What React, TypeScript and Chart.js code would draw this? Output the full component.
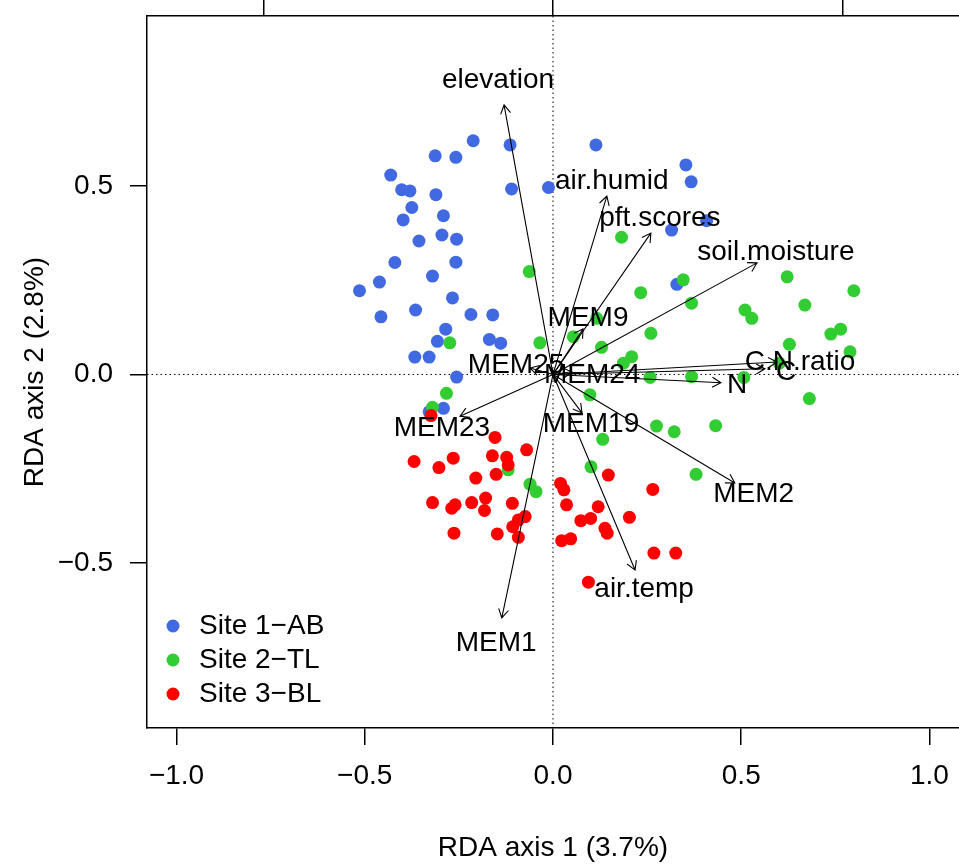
import React, { useEffect, useRef } from "react";
import { Chart, registerables } from "chart.js";

Chart.register(...registerables);

const FONT = '"Liberation Sans", Arial, Helvetica, sans-serif';

const siteLabels = ["Site 1−AB", "Site 2−TL", "Site 3−BL"];
const siteColors = ["#4169E1", "#32CD32", "#FF0000"];

const site1X = [-0.212, -0.114, 0.114, -0.313, -0.258, -0.431, -0.402, -0.38, -0.311, -0.11, -0.012, -0.375, -0.398, -0.291, -0.356, -0.295, -0.256, -0.42, -0.258, -0.32, -0.514, -0.461, -0.267, -0.457, -0.365, -0.218, -0.16, -0.285, -0.307, -0.169, -0.139, -0.367, -0.329, -0.256, 0.353, 0.367, 0.408, 0.315, 0.329, -0.291, -0.329];
const site1Y = [0.62, 0.609, 0.609, 0.58, 0.576, 0.529, 0.49, 0.487, 0.477, 0.492, 0.496, 0.443, 0.41, 0.421, 0.354, 0.37, 0.359, 0.297, 0.298, 0.261, 0.222, 0.245, 0.203, 0.153, 0.171, 0.159, 0.158, 0.12, 0.088, 0.093, 0.083, 0.046, 0.046, -0.007, 0.556, 0.511, 0.408, 0.383, 0.239, -0.09, -0.099];

const site2X = [0.182, -0.063, 0.233, 0.054, 0.116, 0.129, -0.035, -0.274, -0.283, 0.098, 0.187, 0.209, 0.26, 0.258, 0.346, 0.368, 0.622, 0.799, 0.669, 0.51, 0.528, 0.738, 0.764, 0.628, 0.789, 0.368, 0.507, 0.601, 0.681, 0.275, 0.322, 0.432, 0.132, 0.101, 0.38, -0.32, -0.119, -0.061, -0.045];
const site2Y = [0.364, 0.273, 0.217, 0.1, 0.149, 0.072, 0.084, 0.084, -0.05, -0.054, 0.03, 0.047, 0.109, -0.008, 0.251, 0.189, 0.259, 0.222, 0.184, 0.171, 0.149, 0.107, 0.12, 0.08, 0.06, -0.006, -0.008, 0.03, -0.064, -0.137, -0.152, -0.136, -0.172, -0.245, -0.265, -0.087, -0.253, -0.291, -0.311];

const site3X = [-0.154, -0.07, -0.369, -0.265, -0.161, -0.123, -0.119, -0.303, -0.151, -0.205, 0.147, 0.265, 0.02, 0.029, -0.32, -0.26, -0.269, -0.216, -0.179, -0.182, -0.108, 0.036, 0.12, 0.203, -0.074, -0.092, -0.107, 0.074, 0.1, 0.138, 0.144, -0.263, -0.148, -0.092, 0.023, 0.047, 0.268, 0.326, 0.094, -0.324];
const site3Y = [-0.167, -0.2, -0.231, -0.222, -0.216, -0.22, -0.24, -0.247, -0.265, -0.275, -0.267, -0.305, -0.289, -0.306, -0.34, -0.346, -0.355, -0.34, -0.328, -0.361, -0.342, -0.346, -0.351, -0.379, -0.377, -0.386, -0.404, -0.388, -0.382, -0.408, -0.421, -0.421, -0.423, -0.432, -0.441, -0.436, -0.474, -0.474, -0.551, -0.109];

const arrowNames = ["elevation", "air.humid", "pft.scores", "soil.moisture", "C.N.ratio", "C", "N", "MEM2", "air.temp", "MEM1", "MEM19", "MEM23", "MEM9", "MEM25", "MEM24"];
const arrowX = [-0.13, 0.143, 0.26, 0.542, 0.595, 0.563, 0.446, 0.483, 0.218, -0.136, 0.077, -0.247, 0.08, -0.061, 0.05];
const arrowY = [0.715, 0.473, 0.375, 0.296, 0.033, 0.015, -0.022, -0.288, -0.519, -0.646, -0.102, -0.111, 0.121, 0.017, 0.007];
const labelX = [-0.146, 0.156, 0.284, 0.592, 0.656, 0.619, 0.489, 0.533, 0.242, -0.151, 0.101, -0.295, 0.093, -0.098, 0.104];
const labelY = [0.781, 0.512, 0.414, 0.325, 0.033, 0.007, -0.028, -0.317, -0.569, -0.712, -0.131, -0.142, 0.15, 0.023, -0.001];

const xTicks = [-1, -0.5, 0, 0.5, 1];
const yTicks = [-0.5, 0, 0.5];
const topTicks = [-1, 0, 1];

const fmt = (v: number) => (v < 0 ? "\u2212" + Math.abs(v).toFixed(1) : v.toFixed(1));

const zip = (xs: number[], ys: number[]) => xs.map((x, i) => ({ x, y: ys[i] }));

const noPad = (s: any) => {
  s.paddingTop = 0;
  s.paddingBottom = 0;
  s.paddingLeft = 0;
  s.paddingRight = 0;
};

const biplotPlugin = {
  id: "biplot",
  beforeDatasetsDraw(chart: any) {
    const { ctx, chartArea, scales } = chart;
    const x0 = scales.x.getPixelForValue(0);
    const y0 = scales.y.getPixelForValue(0);
    ctx.save();
    ctx.beginPath();
    ctx.rect(chartArea.left, chartArea.top, chartArea.right - chartArea.left, chartArea.bottom - chartArea.top);
    ctx.clip();
    ctx.strokeStyle = "#000";
    ctx.lineWidth = 1;
    ctx.setLineDash([1.5, 3]);
    ctx.beginPath();
    ctx.moveTo(x0, chartArea.top);
    ctx.lineTo(x0, chartArea.bottom);
    ctx.moveTo(chartArea.left, y0);
    ctx.lineTo(chartArea.right, y0);
    ctx.stroke();
    ctx.restore();
  },
  afterDatasetsDraw(chart: any) {
    const { ctx, scales } = chart;
    const ox = scales.x.getPixelForValue(0);
    const oy = scales.y.getPixelForValue(0);
    ctx.save();
    ctx.strokeStyle = "#000";
    ctx.lineWidth = 1.1;
    ctx.setLineDash([]);
    arrowNames.forEach((_, i) => {
      const tx = scales.x.getPixelForValue(arrowX[i]);
      const ty = scales.y.getPixelForValue(arrowY[i]);
      const ang = Math.atan2(ty - oy, tx - ox);
      const hl = 10;
      const sp = Math.PI / 6;
      ctx.beginPath();
      ctx.moveTo(ox, oy);
      ctx.lineTo(tx, ty);
      ctx.moveTo(tx - hl * Math.cos(ang - sp), ty - hl * Math.sin(ang - sp));
      ctx.lineTo(tx, ty);
      ctx.lineTo(tx - hl * Math.cos(ang + sp), ty - hl * Math.sin(ang + sp));
      ctx.stroke();
    });
    ctx.fillStyle = "#000";
    ctx.font = `28px ${FONT}`;
    ctx.textAlign = "center";
    ctx.textBaseline = "middle";
    arrowNames.forEach((name, i) => {
      ctx.fillText(name, scales.x.getPixelForValue(labelX[i]), scales.y.getPixelForValue(labelY[i]));
    });
    ctx.restore();
  },
  afterDraw(chart: any) {
    const { ctx } = chart;
    ctx.save();
    ctx.font = `28px ${FONT}`;
    ctx.textAlign = "left";
    ctx.textBaseline = "middle";
    siteLabels.forEach((lab, i) => {
      const cy = 626 + i * 34;
      ctx.fillStyle = siteColors[i];
      ctx.beginPath();
      ctx.arc(173, cy, 6.5, 0, Math.PI * 2);
      ctx.fill();
      ctx.fillStyle = "#000";
      ctx.fillText(lab, 199, cy);
    });
    ctx.restore();
  },
};

export default function App() {
  const ref = useRef<HTMLCanvasElement | null>(null);
  useEffect(() => {
    if (!ref.current) return;
    const axisFont = { family: FONT, size: 28 };
    const grid = { drawOnChartArea: false, drawTicks: true, tickLength: 17, color: "#000", lineWidth: 1.5 };
    const border = { display: true, color: "#000", width: 1.5 };
    const chart = new Chart(ref.current, {
      type: "scatter",
      data: {
        datasets: [
          { label: siteLabels[0], data: zip(site1X, site1Y), backgroundColor: siteColors[0], order: 3 },
          { label: siteLabels[1], data: zip(site2X, site2Y), backgroundColor: siteColors[1], order: 2 },
          { label: siteLabels[2], data: zip(site3X, site3Y), backgroundColor: siteColors[2], order: 1 },
        ].map((d) => ({ ...d, pointRadius: 6.5, pointHoverRadius: 6.5, borderWidth: 0, xAxisID: "x", yAxisID: "y" })),
      },
      options: {
        animation: false,
        responsive: false,
        events: [],
        layout: { padding: 0, autoPadding: false },
        plugins: { legend: { display: false }, tooltip: { enabled: false } },
        scales: {
          x: {
            type: "linear",
            position: "bottom",
            min: -1.0784,
            max: 1.0784,
            afterBuildTicks: (s: any) => { s.ticks = xTicks.map((v) => ({ value: v })); },
            afterFit: (s: any) => { s.height = 139; noPad(s); },
            grid,
            border,
            ticks: { font: axisFont, color: "#000", padding: 14, maxRotation: 0, autoSkip: false, callback: (v: any) => fmt(Number(v)) },
            title: { display: true, text: "RDA axis 1 (3.7%)", font: axisFont, color: "#000", padding: { top: 0, bottom: 2 } },
          },
          x2: {
            type: "linear",
            position: "top",
            min: -1.4025,
            max: 1.4025,
            afterBuildTicks: (s: any) => { s.ticks = topTicks.map((v) => ({ value: v })); },
            afterFit: (s: any) => { s.height = 16; noPad(s); },
            grid,
            border,
            ticks: { display: false },
          },
          y: {
            type: "linear",
            position: "left",
            min: -0.938,
            max: 0.951,
            afterBuildTicks: (s: any) => { s.ticks = yTicks.map((v) => ({ value: v })); },
            afterFit: (s: any) => { s.width = 147; noPad(s); },
            grid,
            border,
            ticks: { font: axisFont, color: "#000", padding: 17, autoSkip: false, callback: (v: any) => fmt(Number(v)) },
            title: { display: true, text: "RDA axis 2 (2.8%)", font: axisFont, color: "#000", padding: { top: 18, bottom: 0 } },
          },
        },
      } as any,
      plugins: [biplotPlugin],
    });
    return () => chart.destroy();
  }, []);
  return (
    <div style={{ position: "fixed", left: 0, top: 0, width: 959, height: 867, overflow: "hidden", background: "#fff" }}>
      <canvas ref={ref} width={959} height={867} style={{ display: "block", width: 959, height: 867 }} />
    </div>
  );
}
